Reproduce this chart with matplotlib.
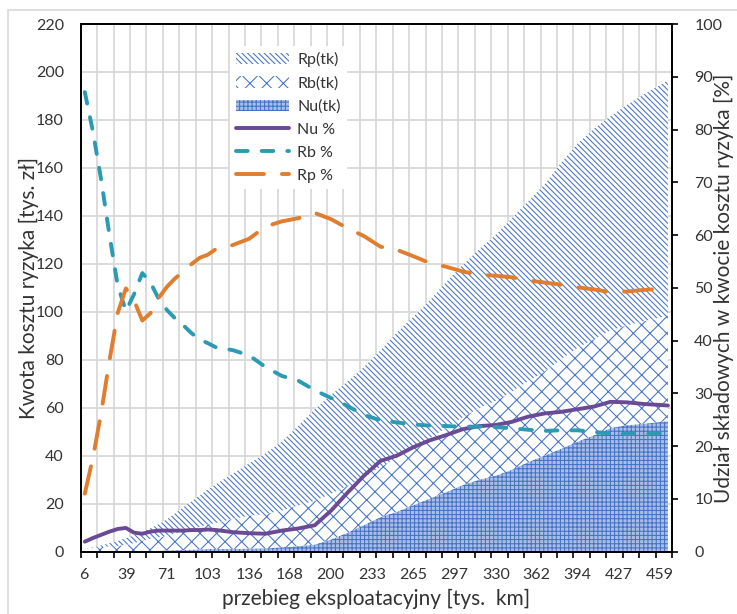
import matplotlib
matplotlib.use('Agg')
import matplotlib.pyplot as plt
from matplotlib.patches import Rectangle
import numpy as np

# mileage of the sampled categories [tys. km]
km = [6.47, 12.93, 19.40, 25.86, 32.33, 38.79, 45.26, 51.72, 58.19, 64.65,
      71.12, 77.58, 84.05, 90.51, 96.98, 103.44, 109.91, 122.84, 135.77, 148.70,
      161.63, 174.56, 187.49, 200.42, 213.35, 226.28, 239.21, 252.14, 265.07, 278.00,
      290.93, 303.86, 316.79, 329.72, 342.65, 355.58, 368.51, 381.44, 394.37, 407.30,
      420.23, 433.16, 446.09, 459.02, 465.48]

# cost components [tys. zl]
nu_tk = [0.02, 0.05, 0.08, 0.13, 0.19, 0.25, 0.24, 0.28, 0.37, 0.46,
         0.54, 0.64, 0.74, 0.86, 0.96, 1.09, 1.16, 1.20, 1.29, 1.39,
         1.84, 2.31, 2.98, 5.11, 7.95, 11.09, 14.45, 16.65, 19.40, 22.16,
         24.86, 27.72, 29.99, 31.68, 34.19, 37.38, 40.09, 42.93, 45.90, 48.54,
         51.55, 52.78, 53.34, 54.07, 54.43]
rb_tk = [0.87, 1.43, 1.83, 2.10, 2.27, 2.55, 3.32, 4.33, 5.00, 5.51,
         6.18, 7.07, 7.94, 8.69, 9.45, 10.27, 10.86, 12.42, 13.69, 14.35,
         15.32, 17.01, 18.21, 19.06, 19.60, 19.94, 20.92, 22.42, 23.62, 25.10,
         26.78, 28.32, 29.86, 31.15, 32.53, 33.73, 35.04, 37.26, 39.10, 40.07,
         40.66, 41.59, 42.67, 43.57, 44.02]
rp_tk = [0.11, 0.32, 0.69, 1.27, 2.03, 2.79, 3.24, 3.59, 4.43, 5.53,
         6.78, 8.29, 9.82, 11.45, 13.09, 14.64, 16.19, 18.88, 21.82, 25.26,
         28.80, 33.18, 38.20, 41.27, 43.45, 45.97, 48.55, 52.34, 54.88, 57.44,
         60.75, 63.46, 66.15, 69.17, 72.28, 75.04, 78.03, 81.97, 85.17, 87.72,
         89.30, 91.94, 94.49, 96.86, 98.05]

# shares [%]
nu_pct = [1.9, 2.6, 3.2, 3.8, 4.3, 4.5, 3.6, 3.4, 3.8, 4.0,
          4.0, 4.0, 4.0, 4.1, 4.1, 4.2, 4.1, 3.7, 3.5, 3.4,
          4.0, 4.4, 5.0, 7.8, 11.2, 14.4, 17.2, 18.2, 19.8, 21.1,
          22.1, 23.2, 23.8, 24.0, 24.6, 25.6, 26.2, 26.5, 27.0, 27.5,
          28.4, 28.3, 28.0, 27.8, 27.7]
rb_pct = [87.1, 79.5, 70.4, 60.0, 50.5, 45.6, 48.8, 52.8, 51.0, 47.9,
          45.8, 44.2, 42.9, 41.4, 40.2, 39.5, 38.7, 38.2, 37.2, 35.0,
          33.3, 32.4, 30.6, 29.1, 27.6, 25.9, 24.9, 24.5, 24.1, 23.9,
          23.8, 23.7, 23.7, 23.6, 23.4, 23.1, 22.9, 23.0, 23.0, 22.7,
          22.4, 22.3, 22.4, 22.4, 22.4]
rp_pct = [11.0, 17.9, 26.4, 36.2, 45.2, 49.9, 47.6, 43.8, 45.2, 48.1,
          50.2, 51.8, 53.1, 54.5, 55.7, 56.3, 57.4, 58.1, 59.3, 61.6,
          62.6, 63.2, 64.2, 63.0, 61.3, 59.8, 57.8, 57.2, 56.0, 54.7,
          54.0, 53.1, 52.5, 52.3, 52.0, 51.4, 51.0, 50.6, 50.1, 49.7,
          49.2, 49.3, 49.6, 49.8, 49.9]

x_labels = [6, 39, 71, 103, 136, 168, 200, 233, 265, 297, 330, 362, 394, 427, 459]

step = 6.465  # km per category
txt = '#333333'

plt.rcParams['font.family'] = ['Lato', 'DejaVu Sans']
plt.rcParams['hatch.linewidth'] = 0.75

fig = plt.figure(figsize=(7.37, 6.14), dpi=100)
fig.patches.append(Rectangle((8 / 737, -0.1), 1.2, 1.1 - 10 / 614, transform=fig.transFigure,
                             fill=False, edgecolor='#d9d9d9', lw=1.2))

ax = fig.add_axes([0.1095, 0.1015, 0.8023, 0.8594])
areas = ax.stackplot(km, nu_tk, rb_tk, rp_tk,
                     colors=['#a9bde6', 'white', 'white'],
                     hatch=['++++', 'xx', '\\\\\\\\\\\\'],
                     edgecolor='#4472C4', linewidth=0)
ax.set_xlim(0.5 * step, 72.5 * step)
ax.set_ylim(0, 220)
ax.set_yticks(range(0, 221, 20))
ax.set_xticks(x_labels)
ax.set_xticklabels([str(v) for v in x_labels])
ax.set_xticks(np.arange(0.5, 73, 2) * step, minor=True)
ax.set_axisbelow(True)
ax.yaxis.grid(True, color='#d9d9d9', lw=1.3)
ax.xaxis.grid(True, which='minor', color='#d9d9d9', lw=1.3)
ax.tick_params(axis='y', length=0, pad=12, labelsize=11.5, labelcolor=txt)
ax.tick_params(axis='x', which='major', length=0, pad=12, labelsize=11.5, labelcolor=txt)
ax.tick_params(axis='x', which='minor', length=4, width=1.2, direction='out')
ax.set_xlabel('przebieg eksploatacyjny [tys.  km]', fontsize=15, color=txt)
ax.xaxis.set_label_coords(0.5, -0.071)
ax.set_ylabel('Kwota kosztu ryzyka [tys. zł]', fontsize=15, color=txt)
ax.yaxis.set_label_coords(-0.071, 0.5)

ax2 = ax.twinx()
l_nu, = ax2.plot(km, nu_pct, color='#6a4a94', lw=2.8, solid_capstyle='round')
l_rb, = ax2.plot(km, rb_pct, color='#2b9bb3', lw=2.8, dashes=(3.0, 3.6), dash_capstyle='round')
l_rp, = ax2.plot(km, rp_pct, color='#e07d2e', lw=2.8, dashes=(7.2, 4.6), dash_capstyle='round')
ax2.set_ylim(0, 100)
ax2.set_yticks(range(0, 101, 10))
ax2.tick_params(axis='y', length=4, width=1.2, direction='out', pad=12, labelsize=11.5, labelcolor=txt)
ax2.set_ylabel('Udział składowych w kwocie kosztu ryzyka [%]', fontsize=15, color=txt)
ax2.yaxis.set_label_coords(1.07, 0.5)

for a in (ax, ax2):
    for s in a.spines.values():
        s.set_color('black')
        s.set_linewidth(1.3)

handles = [areas[2], areas[1], areas[0], l_nu, l_rb, l_rp]
labels = ['Rp(tk)', 'Rb(tk)', 'Nu(tk)', 'Nu %', 'Rb %', 'Rp %']
leg = ax2.legend(handles, labels, loc='upper left', bbox_to_anchor=(0.239, 0.9735),
                 frameon=True, facecolor='white', edgecolor='none', framealpha=1,
                 fancybox=False, fontsize=11.5, handlelength=3.3, handletextpad=0.5,
                 labelspacing=0.55, borderpad=0.4)
for t in leg.get_texts():
    t.set_color(txt)

fig.savefig('out.png', dpi=100)
